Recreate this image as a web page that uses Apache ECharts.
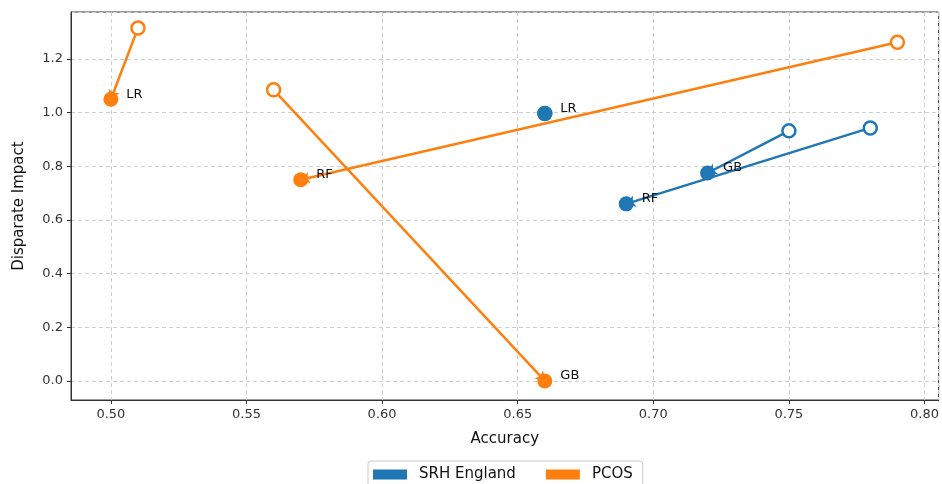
<!DOCTYPE html>
<html>
<head>
<meta charset="utf-8">
<script src="https://cdn.jsdelivr.net/npm/echarts@6/dist/echarts.min.js"></script>
<style>
    html, body { margin: 0; padding: 0; background: #fff; }
    #chart { width: 942px; height: 484px; }
</style>
</head>
<body>
<div id="chart"></div>
<script>
// 模型名称
const models = ['LR', 'RF', 'GB'];

// SRH England: 原始点(空心) 与 调整后点(实心)
const srhBeforeAcc = [0.66, 0.78, 0.75];
const srhBeforeDI = [0.997, 0.943, 0.932];
const srhAfterAcc = [0.66, 0.69, 0.72];
const srhAfterDI = [0.997, 0.66, 0.775];

// PCOS
const pcosBeforeAcc = [0.51, 0.79, 0.56];
const pcosBeforeDI = [1.315, 1.262, 1.085];
const pcosAfterAcc = [0.50, 0.57, 0.66];
const pcosAfterDI = [1.05, 0.75, 0.0];

const BLUE = '#1f77b4';
const ORANGE = '#ff7f0e';

// 构建一个数据集的三个系列：箭头线、空心点、实心点
function buildSeries(name, color, bx, by, ax, ay) {
    const arrows = models
        .map((m, i) => ({ coords: [[bx[i], by[i]], [ax[i], ay[i]]] }))
        .filter(d => d.coords[0][0] !== d.coords[1][0] || d.coords[0][1] !== d.coords[1][1]);
    return [
        {
            name: name,
            type: 'lines',
            coordinateSystem: 'cartesian2d',
            data: arrows,
            symbol: ['none', 'arrow'],
            symbolSize: 9,
            lineStyle: { color: color, width: 2.5, opacity: 1 },
            z: 2,
            silent: true
        },
        {
            name: name,
            type: 'scatter',
            data: models.map((m, i) => [bx[i], by[i]]),
            symbol: 'circle',
            symbolSize: 13,
            itemStyle: { color: '#ffffff', borderColor: color, borderWidth: 2.5, opacity: 1 },
            z: 3
        },
        {
            name: name,
            type: 'scatter',
            data: models.map((m, i) => ({ value: [ax[i], ay[i]], label: { formatter: m } })),
            symbol: 'circle',
            symbolSize: 15,
            itemStyle: { color: color, opacity: 1 },
            label: {
                show: true,
                position: 'right',
                offset: [3, -5],
                color: '#111',
                fontSize: 13,
                fontFamily: 'DejaVu Sans'
            },
            z: 4
        }
    ];
}

const chart = echarts.init(document.getElementById('chart'));

const axisCommon = {
    axisLine: { show: true, onZero: false, lineStyle: { color: '#333', width: 1 } },
    axisTick: { show: true, inside: false, length: 4, lineStyle: { color: '#333' } },
    axisLabel: {
        color: '#333', fontSize: 13, fontFamily: 'DejaVu Sans',
        showMinLabel: false, showMaxLabel: false
    },
    splitLine: { show: true, lineStyle: { color: '#cfcfcf', type: [4, 3], width: 1 } },
    nameLocation: 'middle',
    nameTextStyle: { color: '#111', fontSize: 15, fontFamily: 'DejaVu Sans' }
};

chart.setOption({
    animation: false,
    backgroundColor: '#fff',
    grid: {
        left: 71, right: 3, top: 12, bottom: 84,
        show: true, borderColor: '#333', borderWidth: 1
    },
    legend: {
        bottom: -6,
        left: 368,
        data: ['SRH England', 'PCOS'],
        icon: 'rect',
        itemWidth: 32,
        itemHeight: 8,
        itemGap: 30,
        padding: [6, 10, 8, 5],
        borderColor: '#ccc',
        borderWidth: 1,
        borderRadius: 3,
        textStyle: { color: '#111', fontSize: 15, fontFamily: 'DejaVu Sans', padding: [0, 0, 0, 8] }
    },
    xAxis: Object.assign({}, axisCommon, {
        type: 'value',
        name: 'Accuracy',
        nameGap: 32,
        min: 0.4853,
        max: 0.8052,
        minInterval: 0.05,
        maxInterval: 0.05,
        axisLabel: Object.assign({}, axisCommon.axisLabel, {
            margin: 8,
            formatter: v => v.toFixed(2)
        })
    }),
    yAxis: Object.assign({}, axisCommon, {
        type: 'value',
        name: 'Disparate Impact',
        nameGap: 44,
        min: -0.071,
        max: 1.375,
        minInterval: 0.2,
        maxInterval: 0.2,
        axisLabel: Object.assign({}, axisCommon.axisLabel, {
            margin: 8,
            formatter: v => v.toFixed(1)
        })
    }),
    series: [].concat(
        buildSeries('SRH England', BLUE, srhBeforeAcc, srhBeforeDI, srhAfterAcc, srhAfterDI),
        buildSeries('PCOS', ORANGE, pcosBeforeAcc, pcosBeforeDI, pcosAfterAcc, pcosAfterDI)
    )
});
</script>
</body>
</html>
